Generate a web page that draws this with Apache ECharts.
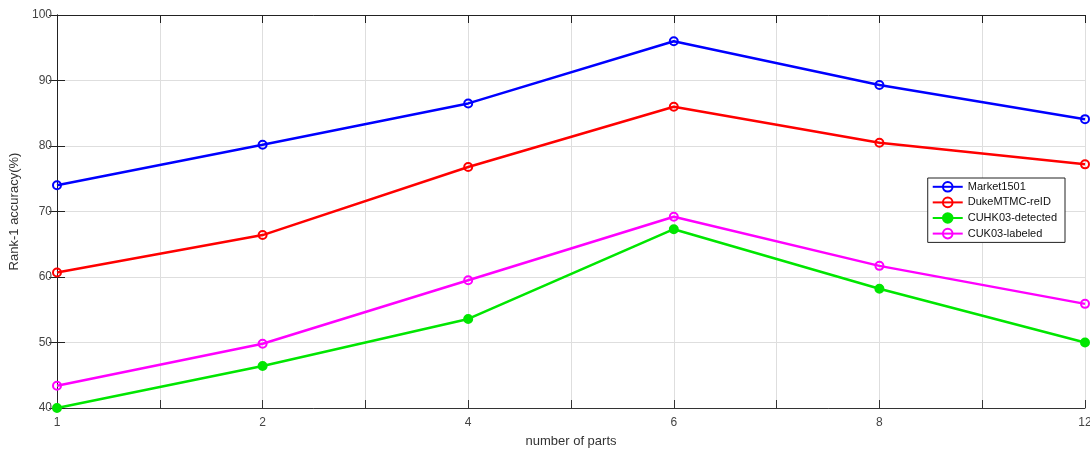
<!DOCTYPE html>
<html><head><meta charset="utf-8">
<script src="https://cdn.jsdelivr.net/npm/echarts@6/dist/echarts.min.js"></script>
<style>html,body{margin:0;padding:0;background:#fff}#c{width:1090px;height:450px}</style>
</head><body><div id="c"></div>
<script>
const categories = ['1', '2', '4', '6', '8', '12'];
const market1501 = [74.0, 80.2, 86.5, 96.0, 89.3, 84.1];
const dukeMTMC = [60.7, 66.4, 76.8, 86.0, 80.5, 77.2];
const cuhk03Detected = [40.0, 46.4, 53.6, 67.3, 58.2, 50.0];
const cuk03Labeled = [43.4, 49.8, 59.5, 69.2, 61.7, 55.9];
const yTicks = [40, 50, 60, 70, 80, 90, 100];

const font = 'Liberation Sans, Arial, sans-serif';
function mk(name, vals, color, filled) {
  return {
    name: name, type: 'line', xAxisIndex: 0, yAxisIndex: 0,
    data: vals.map((v, i) => [i, v]),
    symbol: 'circle', symbolSize: 8,
    lineStyle: { color: color, width: 2.5 },
    itemStyle: { color: filled ? color : 'rgba(255,255,255,0)', borderColor: color, borderWidth: 2 },
    emphasis: { disabled: true }
  };
}
const chart = echarts.init(document.getElementById('c'), null, { renderer: 'canvas' });
const gridColor = '#dedede';
chart.setOption({
  animation: false,
  grid: { left: 57, right: 5, top: 15, bottom: 42, containLabel: false, outerBoundsMode: 'none' },
  legend: {
    right: 25, top: 178, orient: 'vertical', itemGap: 4, itemWidth: 30, itemHeight: 12,
    backgroundColor: '#fff', borderColor: '#222', borderWidth: 1, padding: [3, 8, 3, 4],
    textStyle: { fontFamily: font, fontSize: 11, color: '#111' },
    data: ['Market1501', 'DukeMTMC-reID', 'CUHK03-detected', 'CUK03-labeled']
  },
  xAxis: [{
    type: 'value', min: 0, max: categories.length - 1, interval: 1,
    name: 'number of parts', nameLocation: 'middle', nameGap: 27,
    nameTextStyle: { fontFamily: font, fontSize: 13, color: '#333' },
    axisLine: { lineStyle: { color: '#333', width: 1 } },
    axisTick: { inside: true, length: 8, lineStyle: { color: '#333' } },
    minorTick: { show: true, splitNumber: 2, length: 8, lineStyle: { color: '#333' } },
    axisLabel: { fontFamily: font, fontSize: 12, color: '#444', margin: 9,
      formatter: v => categories[v] !== undefined ? categories[v] : '' },
    splitLine: { show: true, lineStyle: { color: gridColor } },
    minorSplitLine: { show: true, lineStyle: { color: gridColor } }
  }, {
    type: 'value', min: 0, max: categories.length - 1, interval: 1, position: 'top',
    axisLine: { lineStyle: { color: '#222' } },
    axisTick: { inside: true, length: 8, lineStyle: { color: '#222' } },
    minorTick: { show: true, splitNumber: 2, length: 8, lineStyle: { color: '#222' } },
    axisLabel: { show: false }, splitLine: { show: false }
  }],
  yAxis: [{
    type: 'value', min: yTicks[0], max: yTicks[yTicks.length - 1], interval: 10,
    name: 'Rank-1 accuracy(%)', nameLocation: 'middle', nameGap: 31,
    nameTextStyle: { fontFamily: font, fontSize: 13, color: '#333' },
    axisLine: { show: true, lineStyle: { color: '#222' } },
    axisTick: { show: true, inside: true, length: 8, lineStyle: { color: '#222' } },
    axisLabel: { fontFamily: font, fontSize: 12, color: '#444', margin: 5 },
    splitLine: { show: true, lineStyle: { color: gridColor } }
  }, {
    type: 'value', min: yTicks[0], max: yTicks[yTicks.length - 1], interval: 10, position: 'right',
    axisLine: { show: true, lineStyle: { color: '#222' } },
    axisTick: { show: true, inside: true, length: 8, lineStyle: { color: '#222' } },
    axisLabel: { show: false }, splitLine: { show: false }
  }],
  series: [
    mk('Market1501', market1501, '#0000ff', false),
    mk('DukeMTMC-reID', dukeMTMC, '#ff0000', false),
    mk('CUHK03-detected', cuhk03Detected, '#00e600', true),
    mk('CUK03-labeled', cuk03Labeled, '#ff00ff', false)
  ]
});
</script></body></html>
